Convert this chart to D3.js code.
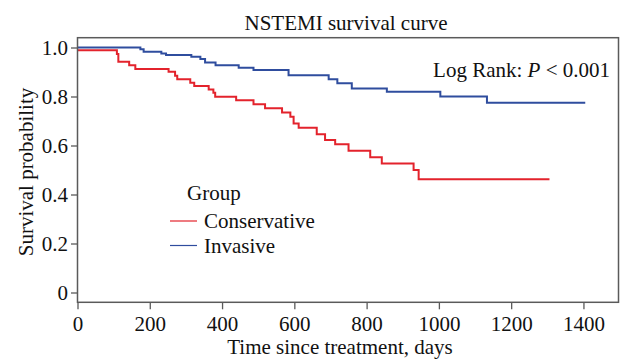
<!DOCTYPE html>
<html>
<head>
<meta charset="utf-8">
<script src="https://cdn.jsdelivr.net/npm/d3@7"></script>
<style>
  body { margin: 0; background: #fff; }
  text { font-family: "Liberation Serif", "Times New Roman", serif; fill: #111; }
</style>
</head>
<body>
<div id="chart"></div>
<script>
// Chart size
const width = 622;
const height = 359;

// Kaplan-Meier steps (days, survival)
const conservativeDays = [0, 109, 113, 143, 160, 252, 270, 276, 312, 323, 363, 376, 381, 439, 487, 519, 566, 589, 598, 612, 662, 685, 713, 750, 810, 842, 930, 944];
const conservativeSurv = [0.989, 0.973, 0.942, 0.928, 0.912, 0.901, 0.885, 0.870, 0.856, 0.843, 0.829, 0.815, 0.799, 0.785, 0.768, 0.752, 0.735, 0.717, 0.690, 0.672, 0.646, 0.622, 0.605, 0.579, 0.552, 0.527, 0.500, 0.462];
const conservativeEnd = 1306;

const invasiveDays = [0, 174, 183, 232, 245, 315, 340, 353, 382, 446, 487, 584, 695, 719, 759, 856, 1004, 1133];
const invasiveSurv = [1.0, 0.993, 0.983, 0.976, 0.969, 0.962, 0.953, 0.939, 0.928, 0.917, 0.908, 0.887, 0.870, 0.854, 0.833, 0.819, 0.800, 0.774];
const invasiveEnd = 1405;

const groups = ["Conservative", "Invasive"];
const colors = ["#e3232c", "#2f4d9e"];

const xTicks = [0, 200, 400, 600, 800, 1000, 1200, 1400];
const yTicks = [0, 0.2, 0.4, 0.6, 0.8, 1.0];

// Scales
const x = d3.scaleLinear().domain([0, 1497]).range([77.5, 618.5]);
const y = d3.scaleLinear().domain([-0.04, 1.04]).range([302.3, 37.7]);

const svg = d3.select("#chart").append("svg")
    .attr("width", width)
    .attr("height", height);

// Build step series
function steps(days, surv, end) {
    const pts = days.map((d, i) => [d, surv[i]]);
    pts.push([end, surv[surv.length - 1]]);
    return pts;
}
const series = [
    steps(conservativeDays, conservativeSurv, conservativeEnd),
    steps(invasiveDays, invasiveSurv, invasiveEnd)
];

const line = d3.line()
    .x(d => x(d[0]))
    .y(d => y(d[1]))
    .curve(d3.curveStepAfter);

// Curves
svg.append("g")
    .selectAll("path")
    .data(series)
    .enter().append("path")
    .attr("d", line)
    .attr("fill", "none")
    .attr("stroke", (d, i) => colors[i])
    .attr("stroke-width", 2);

// Axes
const xAxis = svg.append("g")
    .attr("transform", `translate(0,${y.range()[0]})`)
    .call(d3.axisBottom(x).tickValues(xTicks).tickSize(7).tickPadding(7)
        .tickFormat(d3.format("d")));
const yAxis = svg.append("g")
    .attr("transform", `translate(${x.range()[0]},0)`)
    .call(d3.axisLeft(y).tickValues(yTicks).tickSize(6.5).tickPadding(3)
        .tickFormat(d => d === 0 ? "0" : d3.format(".1f")(d)));

[xAxis, yAxis].forEach(g => {
    g.attr("font-family", null).attr("font-size", null);
    g.select(".domain").remove();
    g.selectAll(".tick line").attr("stroke", "#5a5a5a").attr("stroke-width", 1.3);
    g.selectAll(".tick text")
        .attr("font-family", "Liberation Serif")
        .attr("font-size", 21)
        .attr("fill", "#111");
});

// Frame
svg.append("rect")
    .attr("x", x.range()[0])
    .attr("y", y.range()[1])
    .attr("width", x.range()[1] - x.range()[0])
    .attr("height", y.range()[0] - y.range()[1])
    .attr("fill", "none")
    .attr("stroke", "#5a5a5a")
    .attr("stroke-width", 1.5);

// Title and axis labels
svg.append("text")
    .attr("x", 346).attr("y", 30)
    .attr("text-anchor", "middle")
    .attr("font-size", 21)
    .text("NSTEMI survival curve");

svg.append("text")
    .attr("x", 340).attr("y", 354)
    .attr("text-anchor", "middle")
    .attr("font-size", 21)
    .text("Time since treatment, days");

svg.append("text")
    .attr("transform", "translate(33,172) rotate(-90)")
    .attr("text-anchor", "middle")
    .attr("font-size", 21)
    .text("Survival probability");

// Log rank note
const note = svg.append("text")
    .attr("x", 610).attr("y", 77)
    .attr("text-anchor", "end")
    .attr("font-size", 21);
note.append("tspan").text("Log Rank: ");
note.append("tspan").attr("font-style", "italic").text("P");
note.append("tspan").text(" < 0.001");

// Legend
svg.append("text")
    .attr("x", 187).attr("y", 200)
    .attr("font-size", 21)
    .text("Group");

const legend = svg.append("g")
    .selectAll("g")
    .data(groups)
    .enter().append("g")
    .attr("transform", (d, i) => `translate(170,${221 + i * 24.5})`);
legend.append("line")
    .attr("x1", 0).attr("x2", 27)
    .attr("stroke", (d, i) => colors[i])
    .attr("stroke-width", 1.2);
legend.append("text")
    .attr("x", 34).attr("y", 7)
    .attr("font-size", 21)
    .text(d => d);
</script>
</body>
</html>
